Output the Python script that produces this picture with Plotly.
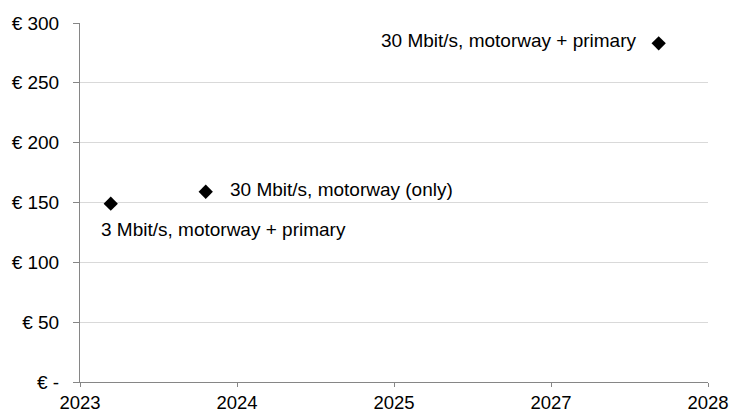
import plotly.graph_objects as go

# Data
years = [2023.735, 2024.461, 2027.923]
costs = [149, 159, 283]
labels = ["3 Mbit/s, motorway + primary", "30 Mbit/s, motorway (only)", "30 Mbit/s, motorway + primary"]
x_tickvals = [2023.5, 2024.7, 2025.9, 2027.1, 2028.3]
x_ticktext = ["2023", "2024", "2025", "2027", "2028"]
y_tickvals = [0, 50, 100, 150, 200, 250, 300]
y_ticktext = ["€ -", "€ 50", "€ 100", "€ 150", "€ 200", "€ 250", "€ 300"]

FONT = "Liberation Sans, Arial, sans-serif"
FS = 19

fig = go.Figure()
fig.add_trace(go.Scatter(
    x=years, y=costs, mode="markers",
    marker=dict(symbol="diamond", size=11, color="#000000"),
    showlegend=False, hoverinfo="x+y",
))

# label placement (offsets in pixels)
anchors = ["left", "left", "right"]
xshifts = [-12, 22, -21]
yshifts = [-26, 2, 3]
for xv, yv, t, a, xs, ys in zip(years, costs, labels, anchors, xshifts, yshifts):
    fig.add_annotation(x=xv, y=yv, text=t, showarrow=False, xanchor=a, yanchor="middle",
                       xshift=xs, yshift=ys, font=dict(family=FONT, size=FS, color="#000000"))

fig.update_layout(
    width=729, height=412,
    margin=dict(l=80, r=21, t=23, b=30),
    paper_bgcolor="white", plot_bgcolor="white",
    font=dict(family=FONT, size=FS, color="#000000"),
)
fig.update_xaxes(
    range=[x_tickvals[0], x_tickvals[-1]], automargin=False,
    tickmode="array", tickvals=x_tickvals, ticktext=x_ticktext,
    showgrid=False, zeroline=False,
    showline=True, linecolor="#868686", linewidth=1,
    ticks="outside", ticklen=4, tickcolor="#868686",
    tickfont=dict(family=FONT, size=18.5, color="#000000"),
    ticklabeloverflow="allow",
)
fig.update_yaxes(
    range=[0, 300], automargin=False,
    tickmode="array", tickvals=y_tickvals, ticktext=y_ticktext,
    showgrid=True, gridcolor="#d9d9d9", gridwidth=1, zeroline=False,
    showline=True, linecolor="#868686", linewidth=1,
    ticks="outside", ticklen=6, tickcolor="#868686",
    tickfont=dict(family=FONT, size=FS, color="#000000"),
    ticklabelstandoff=10,
)

# remove the page's default body margin so the figure fills the window exactly
fig.write_html("out.html",
               config={"displayModeBar": False},
               post_script="document.body.style.margin='0';document.body.style.overflow='hidden';")
